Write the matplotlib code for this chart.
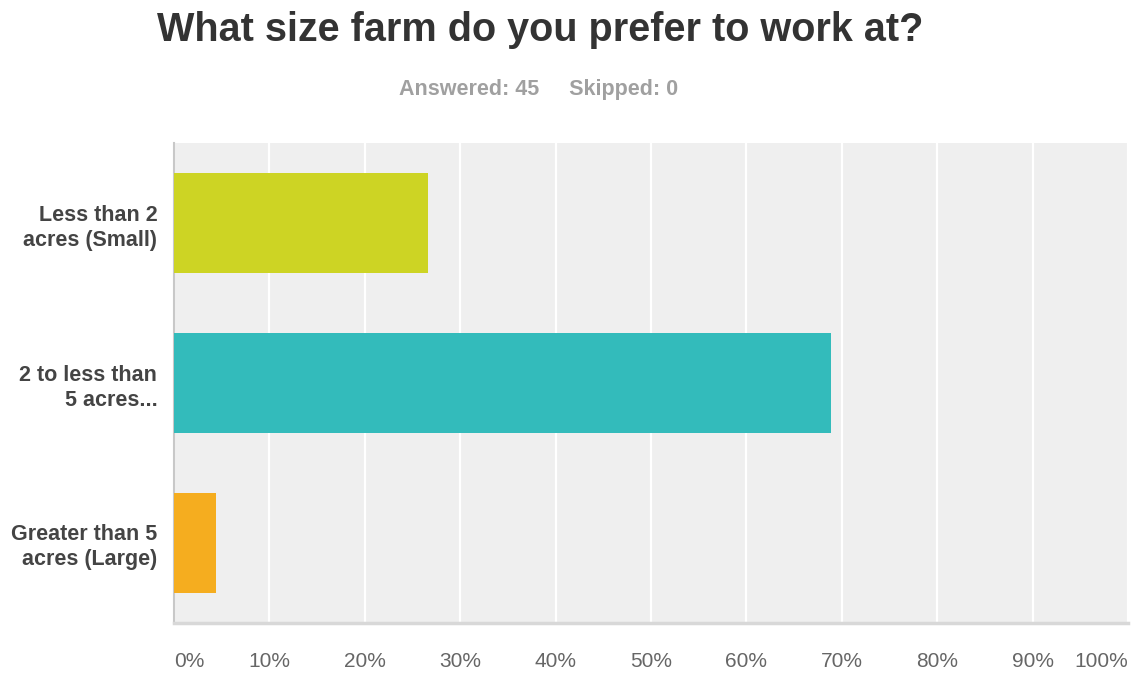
import matplotlib.pyplot as plt

plt.rcParams["font.family"] = ["Liberation Sans", "DejaVu Sans"]

categories = ["Less than 2\nacres (Small)", "2 to less than\n5 acres...", "Greater than 5\nacres (Large)"]
responses = [12, 31, 2]
answered = 45
skipped = 0
colors = ["#cdd424", "#33bbbb", "#f5ad1f"]
ticks = list(range(0, 101, 10))
tick_labels = [f"{t}%" for t in ticks]

percents = [100 * r / answered for r in responses]

fig = plt.figure(figsize=(11.4, 6.73), dpi=100)
ax = fig.add_axes([174 / 1140, 50 / 673, 954 / 1140, 480 / 673])
ax.set_facecolor("#efefef")

ypos = range(len(categories))
ax.barh(ypos, percents, height=0.625, color=colors, zorder=3)
ax.set_ylim(len(categories) - 0.5, -0.5)
ax.set_xlim(0, 100)

ax.set_yticks(list(ypos))
ax.set_yticklabels(categories, fontsize=15.5, fontweight="bold", color="#444444",
                   linespacing=1.25)
ax.set_xticks(ticks)
ax.set_xticklabels(tick_labels, fontsize=15, color="#666666")
ax.get_xticklabels()[0].set_horizontalalignment("left")
ax.get_xticklabels()[-1].set_horizontalalignment("right")
ax.tick_params(axis="x", length=0, pad=21)
ax.tick_params(axis="y", length=0, pad=12)

ax.grid(axis="x", color="white", linewidth=1.6, zorder=1)
ax.set_axisbelow(True)
for side in ["top", "right"]:
    ax.spines[side].set_visible(False)
ax.spines["left"].set_color("#c8c8c8")
ax.spines["left"].set_linewidth(1.5)
ax.spines["bottom"].set_color("#d8d8d8")
ax.spines["bottom"].set_linewidth(2.5)

fig.text(540 / 1140, 1 - 30 / 673, "What size farm do you prefer to work at?",
         ha="center", va="center", fontsize=28.5, fontweight="bold", color="#333333")
fig.text(539 / 1140, 1 - 90 / 673, f"Answered: {answered}     Skipped: {skipped}",
         ha="center", va="center", fontsize=15.5, fontweight="bold", color="#a0a0a0")

fig.savefig("out.png", dpi=100)
